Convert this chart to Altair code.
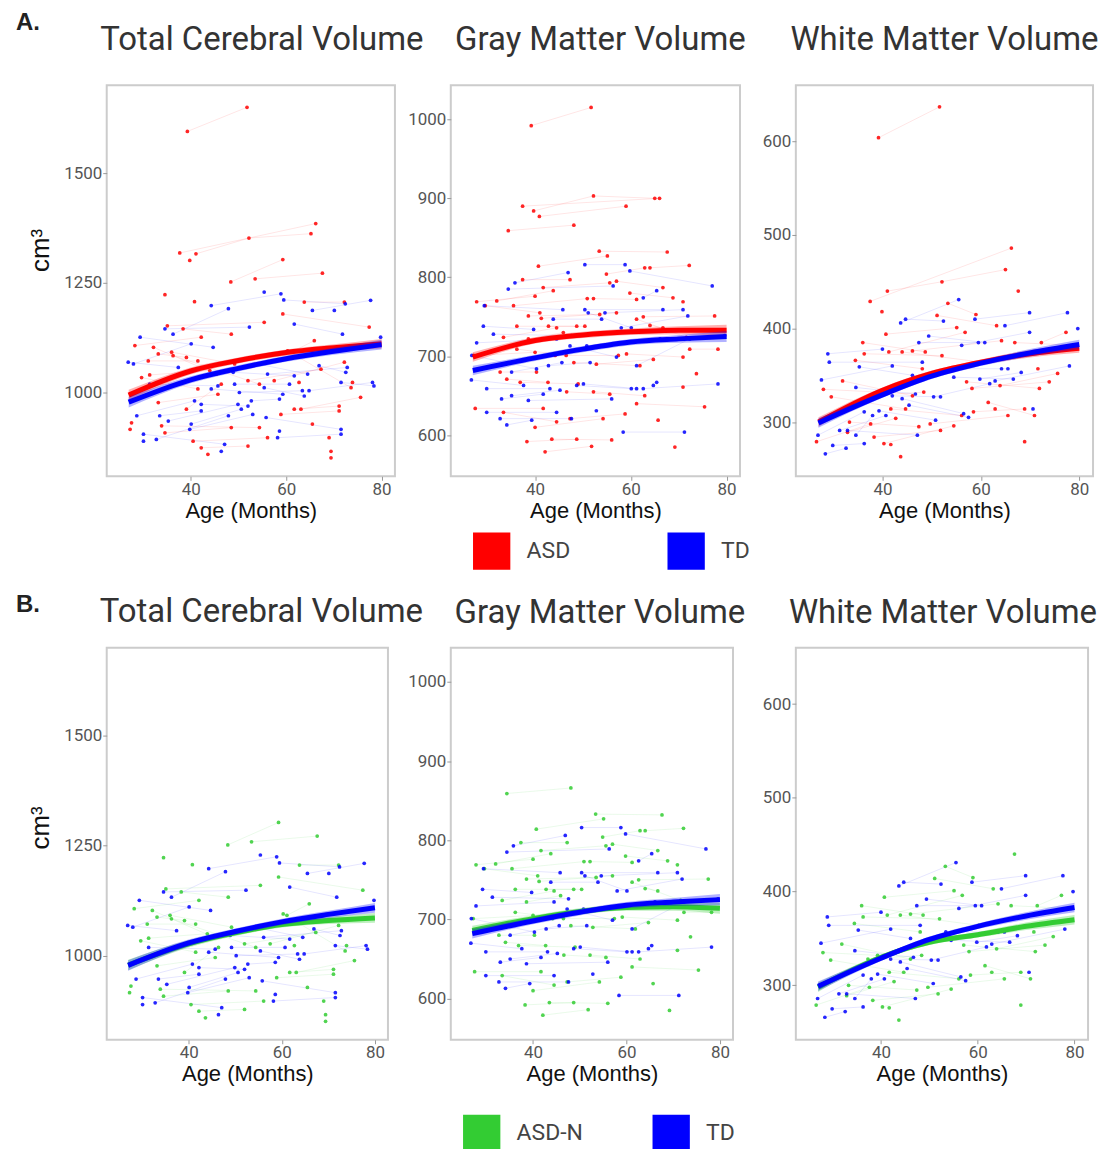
import altair as alt
import pandas as pd

# ---------------- data ----------------
RED, BLUE, GREEN = "#FF0000", "#0000FF", "#33CC33"
group_names = ["ASD", "TD", "ASD-N"]
group_colors = [RED, BLUE, GREEN]

titles = ["Total Cerebral Volume", "Gray Matter Volume", "White Matter Volume"]
x_ticks = [40, 60, 80]
tcv_ticks = [1000, 1250, 1500]
gmv_ticks = [600, 700, 800, 900, 1000]
wmv_ticks = [300, 400, 500, 600]
x_domain = [22.4, 82.8]
tcv_domain = [809, 1700]
gmv_domain = [548, 1043]
wmv_domain = [242, 660]

# subjects: list of longitudinal scans (age in months, volume cm3)
tcv_td = [
    [(26.9, 1069), (37.4, 1057)], [(28.0, 1065), (40.1, 1111)], [(29.4, 1126), (44.7, 1103)],
    [(28.7, 947), (40.8, 981)], [(30.1, 905), (47.1, 882)], [(31.4, 1019), (45.7, 1015)],
    [(32.8, 893), (47.9, 947)], [(33.5, 947), (42.2, 958)], [(34.6, 1145), (52.3, 1149)],
    [(36.3, 1133), (47.9, 1191)], [(40.1, 928), (50.6, 962)], [(44.3, 1198), (58.9, 1225)],
    [(49.2, 1019), (60.7, 1019)], [(50.2, 1000), (63.4, 1004)], [(52.7, 981), (58.6, 985)],
    [(54.1, 1065), (64.5, 1042)], [(55.8, 943), (71.5, 916)], [(56.1, 1042), (72.8, 1057)],
    [(58.6, 912)], [(61.7, 1156), (71.8, 1133)], [(65.5, 1187), (77.7, 1210)], [(70.1, 1187)],
    [(64.8, 1004), (78.1, 1023)], [(59.5, 1211), (72.4, 1202)], [(55.4, 1229)], [(79.8, 1126)],
    [(35.3, 935), (49.9, 973)], [(39.8, 916), (53.0, 950)], [(42.2, 973), (52.0, 969)],
    [(44.3, 1008), (59.3, 996)], [(48.9, 1046), (61.7, 1038)], [(55.4, 1011), (63.8, 992)],
    [(58.2, 897), (71.5, 905)], [(66.9, 1061), (72.5, 1046)], [(71.5, 1023), (78.4, 1015)],
    [(46.4, 866)], [(30.1, 889)],
]
tcv_asdn = [
    [(28.3, 1107), (42.2, 1126)], [(31.1, 1072), (41.5, 1072)], [(31.4, 1040), (44.0, 1050)],
    [(33.2, 977), (45.7, 996)], [(33.9, 924), (54.4, 920)], [(35.1, 1152), (55.4, 1160)],
    [(36.0, 1092), (49.2, 1065)], [(38.4, 1145), (48.5, 1133)], [(39.1, 962), (46.4, 1019)],
    [(40.5, 889), (56.1, 897)], [(42.2, 874), (52.0, 878)], [(43.6, 859)], [(69.0, 897)],
    [(33.2, 1088), (39.1, 1080)], [(52.0, 1027), (67.3, 1053)], [(57.5, 1027), (72.2, 1069)],
    [(59.3, 1179), (77.4, 1149)], [(61.7, 962), (71.1, 969)], [(63.1, 962), (75.6, 989)],
    [(63.8, 1206), (72.2, 1206)], [(61.1, 1092), (65.9, 1118)], [(48.4, 1252), (59.3, 1303)],
    [(53.5, 1259), (67.6, 1272)], [(34.6, 1223)], [(40.8, 1207)], [(69.4, 866)], [(73.9, 1023)],
    [(65.5, 928)], [(27.6, 931)], [(29.7, 1034), (41.5, 1008)], [(32.2, 1103), (45.4, 1042)],
    [(34.6, 908), (48.5, 920)], [(36.3, 1084), (54.4, 1019)], [(58.9, 950), (71.1, 958)],
    [(60.3, 1095), (73.6, 1011)], [(62.7, 1023)], [(69.4, 851)], [(27.3, 916)],
]
tcv_asdm = [
    [(39.3, 1595), (51.8, 1650)], [(41.1, 1316), (52.2, 1352), (65.2, 1362)],
    [(37.7, 1318), (66.2, 1385)], [(39.8, 1301)],
]

gmv_td = [
    [(26.7, 670), (37.6, 663)], [(26.8, 701), (40.3, 684)], [(27.8, 717), (44.5, 722)],
    [(29.2, 738), (39.7, 734)], [(29.4, 764), (45.8, 759)], [(29.9, 659), (43.1, 659)],
    [(29.9, 629), (44.5, 629)], [(31.3, 728), (47.6, 726)], [(32.7, 621), (47.6, 621)],
    [(33.0, 646), (41.7, 652)], [(34.1, 613), (39.3, 619)], [(34.4, 785), (56.3, 789)],
    [(35.8, 793), (46.9, 806)], [(35.1, 680), (45.6, 692)], [(35.1, 650), (45.2, 657)],
    [(38.6, 644), (56.0, 646)], [(42.8, 688), (51.5, 692)], [(43.8, 747), (53.9, 747)],
    [(47.3, 713), (57.0, 699)], [(48.7, 663), (60.1, 659)], [(50.1, 665), (61.2, 659)],
    [(50.4, 816), (58.8, 816)], [(50.4, 759), (66.7, 759)], [(50.8, 713), (66.1, 722)],
    [(51.1, 755), (60.1, 736)], [(52.8, 631)], [(54.6, 755), (70.9, 759)],
    [(58.0, 736), (71.9, 751)], [(58.4, 604), (71.2, 604)], [(59.8, 808), (77.0, 789)],
    [(61.2, 688), (72.3, 722)], [(62.6, 659), (78.2, 665)], [(62.6, 774), (65.4, 783)],
    [(64.7, 663), (65.4, 667)], [(79.6, 726)],
]
gmv_asdn = [
    [(27.2, 701), (40.0, 705)], [(27.5, 634), (41.7, 634)], [(27.8, 769), (40.0, 776)],
    [(29.6, 764), (41.0, 755)], [(32.0, 770), (43.8, 783)], [(32.7, 680), (40.3, 680)],
    [(33.4, 724), (44.5, 736)], [(33.4, 629), (44.5, 617)], [(34.1, 671), (42.7, 667)],
    [(34.4, 859), (48.1, 866)], [(35.5, 764), (50.9, 773)], [(36.2, 738), (48.7, 738)],
    [(36.2, 709), (46.5, 701)], [(36.9, 667), (49.0, 665)], [(37.4, 797), (47.3, 797)],
    [(38.3, 592), (48.7, 595)], [(38.6, 751), (53.5, 753)], [(38.6, 722), (45.9, 730)],
    [(40.0, 610), (54.2, 621)], [(40.7, 814), (55.1, 827)], [(41.3, 748), (57.0, 755)],
    [(41.7, 787), (55.6, 793)], [(42.1, 579), (51.8, 586)], [(42.8, 738), (50.4, 738)],
    [(43.5, 595), (56.0, 594)], [(44.2, 701), (57.4, 701)], [(46.6, 655), (55.6, 652)],
    [(47.3, 621), (58.8, 627)], [(48.1, 692), (61.9, 688)], [(52.2, 773), (61.2, 772)],
    [(52.2, 655), (62.9, 650)], [(52.8, 690), (64.7, 696)], [(53.4, 833), (67.6, 832)],
    [(54.9, 804), (62.9, 812)], [(57.0, 795), (66.7, 787)], [(59.1, 703), (70.9, 699)],
    [(59.8, 780), (68.8, 774)], [(61.2, 747), (71.6, 724)], [(61.2, 640), (75.4, 636)],
    [(62.6, 750), (77.5, 751)], [(64.0, 812), (72.2, 815)], [(64.0, 739), (66.7, 736)],
    [(65.7, 619)], [(69.2, 585)], [(70.9, 769)], [(70.9, 661)], [(72.3, 709), (78.2, 709)],
    [(73.7, 678)],
]
gmv_asdm = [
    [(39.2, 992), (51.7, 1015)], [(39.7, 884), (52.2, 903), (65.0, 900)],
    [(37.4, 890), (66.0, 900)], [(40.9, 877), (59.0, 890)],
]

wmv_td = [
    [(26.9, 286), (36.3, 311)], [(27.6, 345), (42.0, 360)], [(28.4, 266), (32.6, 272)],
    [(28.9, 373), (40.0, 378)], [(29.2, 364), (48.1, 364)], [(29.9, 275), (36.3, 277)],
    [(31.3, 291), (40.7, 307)], [(32.9, 291), (47.1, 286)], [(34.6, 337), (46.7, 330)],
    [(35.3, 359), (46.1, 350)], [(34.6, 286), (38.0, 307)], [(39.3, 312), (50.8, 302)],
    [(42.0, 328), (51.8, 327)], [(43.7, 406), (55.5, 431)], [(44.0, 325), (56.5, 309)],
    [(44.7, 410), (52.4, 408)], [(45.4, 318), (57.5, 305)], [(47.4, 385), (59.5, 385)],
    [(49.4, 392), (60.8, 385)], [(50.4, 327), (61.8, 341)], [(53.4, 357), (65.5, 357)],
    [(54.5, 348), (66.6, 346)], [(56.1, 382), (69.9, 396)], [(58.8, 410), (69.9, 417)],
    [(59.8, 346), (68.2, 353)], [(62.9, 344), (78.0, 360)], [(64.9, 403), (77.6, 417)],
    [(64.2, 357)], [(70.6, 314)], [(79.7, 400)],
]
wmv_asdn = [
    [(26.6, 279), (37.6, 298)], [(28.0, 335), (39.3, 332)], [(29.6, 327), (44.7, 314)],
    [(31.9, 344), (46.1, 328)], [(32.9, 289), (42.7, 304)], [(33.3, 300), (47.4, 295)],
    [(34.5, 366), (48.1, 357)], [(36.0, 385), (48.7, 375)], [(36.3, 373), (52.1, 371)],
    [(37.3, 328), (48.4, 332)], [(38.3, 284), (51.8, 291)], [(40.7, 394), (55.1, 401)],
    [(41.3, 375), (56.8, 396)], [(40.3, 277), (54.5, 296)], [(41.7, 276)], [(43.7, 263)],
    [(44.0, 375), (60.2, 364)], [(41.7, 314), (56.1, 307)], [(46.1, 376), (64.2, 387)],
    [(49.7, 298), (65.5, 307)], [(51.1, 414), (63.2, 403)], [(53.3, 427), (59.0, 415)],
    [(57.1, 343), (71.9, 336)], [(58.2, 336), (73.9, 343)], [(58.5, 311), (68.9, 314)],
    [(61.5, 321), (70.9, 307)], [(62.9, 314)], [(63.9, 339), (75.6, 352)],
    [(66.9, 385), (79.3, 382)], [(68.9, 279)], [(71.6, 357)], [(72.3, 385), (77.3, 396)],
    [(67.6, 440)],
]
wmv_asdm = [
    [(39.2, 604), (51.6, 637)], [(41.0, 440), (52.1, 450), (65.0, 463)],
    [(37.5, 429), (66.2, 486)], [(39.9, 418)],
]

# fitted growth curves and their confidence half-widths
curve_age = [27, 40, 50, 60, 70, 80]
tcv_fit_asd = [994, 1049, 1073, 1091, 1102, 1111]
tcv_fit_td = [978, 1029, 1055, 1077, 1094, 1109]
tcv_fit_asdn = [979, 1027, 1052, 1071, 1080, 1086]
gmv_fit_asd = [699, 720, 727, 731, 733, 733]
gmv_fit_td = [682, 698, 709, 718, 722, 725]
gmv_fit_asdn = [686, 701, 710, 715, 716, 714]
wmv_fit_asd = [300, 334, 352, 364, 373, 379]
wmv_fit_td = [299, 329, 349, 363, 374, 383]
wmv_fit_asdn = [298, 330, 346, 354, 363, 370]
tcv_ci = [12, 8, 7, 7, 8, 11]
gmv_ci = [6, 4, 4, 4, 5, 7]
wmv_ci = [5, 3, 3, 3, 4, 5]

legend_a = ["ASD", "TD"]
legend_b = ["ASD-N", "TD"]
panel_labels = ["A.", "B."]

# ---------------- assembly ----------------
SUBJ = {
    "tcv": {"ASD-N": tcv_asdn, "ASD-M": tcv_asdm, "TD": tcv_td},
    "gmv": {"ASD-N": gmv_asdn, "ASD-M": gmv_asdm, "TD": gmv_td},
    "wmv": {"ASD-N": wmv_asdn, "ASD-M": wmv_asdm, "TD": wmv_td},
}
FITS = {
    "tcv": {"ASD": tcv_fit_asd, "TD": tcv_fit_td, "ASD-N": tcv_fit_asdn},
    "gmv": {"ASD": gmv_fit_asd, "TD": gmv_fit_td, "ASD-N": gmv_fit_asdn},
    "wmv": {"ASD": wmv_fit_asd, "TD": wmv_fit_td, "ASD-N": wmv_fit_asdn},
}
CI = {"tcv": tcv_ci, "gmv": gmv_ci, "wmv": wmv_ci}
TICKS = {"tcv": tcv_ticks, "gmv": gmv_ticks, "wmv": wmv_ticks}
DOMAIN = {"tcv": tcv_domain, "gmv": gmv_domain, "wmv": wmv_domain}
TITLE = dict(zip(["tcv", "gmv", "wmv"], titles))

CSCALE = alt.Scale(domain=group_names, range=group_colors)


def point_frame(key, row):
    s = SUBJ[key]
    if row == "A":
        groups = [("ASD", s["ASD-N"] + s["ASD-M"]), ("TD", s["TD"])]
    else:
        groups = [("ASD-N", s["ASD-N"]), ("TD", s["TD"])]
    rows = []
    for g, subjects in groups:
        for i, subj in enumerate(subjects):
            for a, v in subj:
                rows.append({"group": g, "sid": f"{g}{i}", "age": a, "vol": v})
    return pd.DataFrame(rows)


def panel(key, row, width, height, title_offset, title_dx, label=None, label_y=0, ytitle_y=0):
    def X(field):
        return alt.X(f"{field}:Q", scale=alt.Scale(domain=x_domain, nice=False, zero=False),
                     axis=alt.Axis(values=x_ticks, title="Age (Months)", format="d"))

    def Y(field):
        extra = {"titleY": ytitle_y} if label else {}
        return alt.Y(f"{field}:Q", scale=alt.Scale(domain=DOMAIN[key], nice=False, zero=False),
                     axis=alt.Axis(values=TICKS[key], title="cm³" if label else None, format="d",
                                   minExtent=46, maxExtent=46, **extra))

    color = alt.Color("group:N", scale=CSCALE, legend=None)
    base = alt.Chart(point_frame(key, row))
    layers = [
        base.mark_line(strokeWidth=0.8, opacity=0.13).encode(x=X("age"), y=Y("vol"), color=color, detail="sid:N"),
        base.mark_circle(size=14, opacity=0.85).encode(x=X("age"), y=Y("vol"), color=color),
    ]
    groups = ["ASD", "TD"] if row == "A" else ["ASD-N", "TD"]
    for g in groups:
        fd = pd.DataFrame({"age": curve_age, "fit": FITS[key][g], "ci": CI[key], "group": g})
        fc = alt.Chart(fd)
        layers.append(
            fc.transform_calculate(lo="datum.fit - datum.ci", hi="datum.fit + datum.ci")
            .mark_area(opacity=0.3, interpolate="monotone")
            .encode(x=X("age"), y=Y("lo"), y2=alt.Y2("hi:Q"), color=color)
        )
        layers.append(
            fc.mark_line(strokeWidth=5, interpolate="monotone").encode(x=X("age"), y=Y("fit"), color=color)
        )
    if label:
        layers.append(
            alt.Chart(pd.DataFrame({"label": [label]}))
            .mark_text(align="left", baseline="alphabetic", fontSize=24, fontWeight="bold",
                       font="Liberation Sans", color="#222222")
            .encode(text="label:N", x=alt.value(-91), y=alt.value(label_y))
        )
    return alt.layer(*layers).properties(
        width=width, height=height,
        title=alt.Title(TITLE[key], fontSize=33, font="Roboto", color="#333333", fontWeight="normal",
                        frame="group", anchor="middle", baseline="alphabetic", offset=title_offset, dx=title_dx),
    )


def legend_chart(labels, px_range, width):
    df = pd.DataFrame({"label": labels, "idx": list(range(len(labels)))})
    base = alt.Chart(df).encode(
        x=alt.X("idx:Q", scale=alt.Scale(domain=[0, 1], range=px_range), axis=None),
        y=alt.value(20),
    )
    sq = base.mark_square(size=1400, opacity=1).encode(color=alt.Color("label:N", scale=CSCALE, legend=None))
    tx = base.mark_text(align="left", baseline="middle", dx=35, fontSize=23, font="Roboto", color="#444444").encode(
        text="label:N")
    return alt.layer(sq, tx).properties(width=width, height=40,
                                        view=alt.ViewBackground(strokeWidth=0, strokeOpacity=0))


rowA = alt.hconcat(
    panel("tcv", "A", 289, 392, -73, 11, label=panel_labels[0], label_y=-56, ytitle_y=165),
    panel("gmv", "A", 290, 392, 2, 5),
    panel("wmv", "A", 298, 392, 2, 0),
    spacing=56, bounds="flush",
)
rowB = alt.hconcat(
    panel("tcv", "B", 282, 393, -62, 14, label=panel_labels[1], label_y=-36, ytitle_y=180),
    panel("gmv", "B", 283, 393, -8, 8),
    panel("wmv", "B", 293, 393, -8, 1),
    spacing=63, bounds="flush",
)

blockA = alt.vconcat(rowA, legend_chart(legend_a, [386, 581], 989), spacing=9)
blockB = alt.vconcat(rowB, legend_chart(legend_b, [376, 566], 984), spacing=28)

chart = (
    alt.vconcat(blockA, blockB, spacing=21)
    .properties(padding={"left": 7, "top": 0, "right": 5, "bottom": 5})
    .configure_view(stroke="#cccccc", strokeWidth=2)
    .configure_axis(grid=False, domain=False, tickSize=4, tickColor="#999999", labelColor="#555555",
                    labelFont="Roboto", labelFontSize=17, labelPadding=1, titleFont="Liberation Sans",
                    titleFontWeight="normal", titleColor="#111111")
    .configure_axisX(titleFontSize=22, titlePadding=3)
    .configure_axisY(titleFontSize=26, titlePadding=7)
)

chart.save("out.html", embed_options={"renderer": "svg", "actions": False})
